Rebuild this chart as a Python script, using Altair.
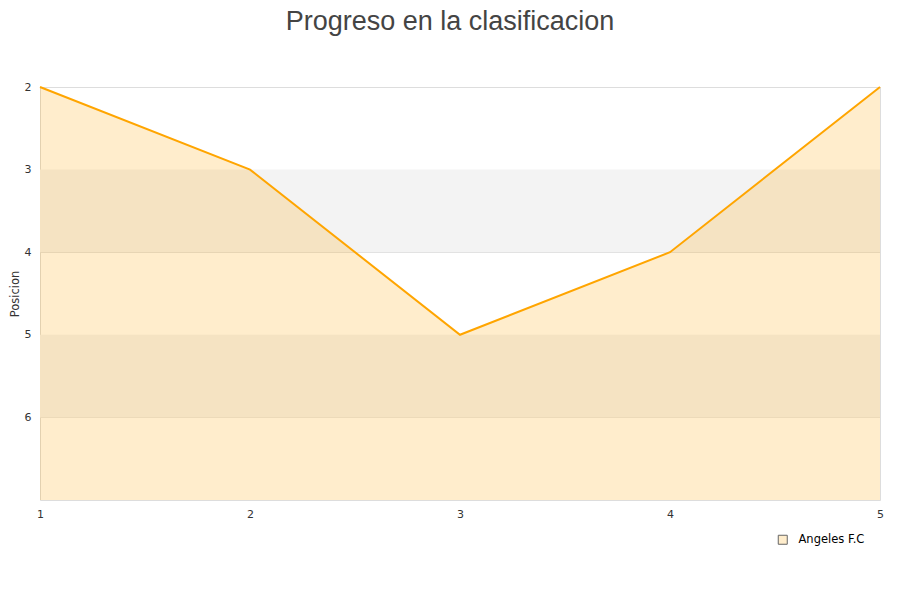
import altair as alt
import pandas as pd

jornadas = [1, 2, 3, 4, 5]
posiciones = [2, 3, 5, 4, 2]
equipo = "Angeles F.C"
band_start = [3, 5]
band_end = [4, 6]

df = pd.DataFrame({"jornada": jornadas, "posicion": posiciones, "equipo": [equipo] * len(jornadas)})
bands = pd.DataFrame({"y0": band_start, "y1": band_end})

yscale = alt.Scale(domain=[2, 7], reverse=True, nice=False, zero=False)
xscale = alt.Scale(domain=[1, 5], nice=False, zero=False)

band_layer = alt.Chart(bands).mark_rect(color="#F3F3F3").encode(
    y=alt.Y("y0:Q", scale=yscale,
            axis=alt.Axis(values=[2, 3, 4, 5, 6], format="d", title="Posicion", grid=True,
                          gridColor="#DDDDDD", ticks=False, domain=False, labelPadding=9,
                          labelFontSize=11, labelColor="#333333", titleFontSize=11.5,
                          titleFontWeight="normal", titleColor="#333333", titlePadding=4)),
    y2="y1:Q",
    x=alt.value(0),
    x2=alt.value(840),
)

area = alt.Chart(df).mark_area(fillOpacity=1, line=False).encode(
    x=alt.X("jornada:Q", scale=xscale,
            axis=alt.Axis(values=jornadas, format="d", title=None, grid=False, ticks=False, domain=False,
                          labelFlush=False, labelPadding=8, labelFontSize=11, labelColor="#333333")),
    y=alt.Y("posicion:Q", scale=yscale),
    y2=alt.datum(7),
    fill=alt.Fill("equipo:N", scale=alt.Scale(range=["rgba(255,165,0,0.2)"]),
                  legend=alt.Legend(title=None, orient="none", legendX=737, legendY=447,
                                    symbolType="square", symbolSize=81, symbolStrokeColor="#666666",
                                    symbolStrokeWidth=1, symbolOpacity=1, labelOffset=10,
                                    labelFontSize=11.5, labelColor="#000000")),
)

line = alt.Chart(df).mark_line(color="#FFA500", strokeWidth=2).encode(
    x=alt.X("jornada:Q", scale=xscale),
    y=alt.Y("posicion:Q", scale=yscale),
)

chart = alt.layer(band_layer, area, line).properties(
    width=840,
    height=413,
    title=alt.TitleParams("Progreso en la clasificacion", fontSize=27, fontWeight="normal",
                          color="#444444", font="Liberation Sans", offset=45, dx=-10, anchor="middle"),
    autosize=alt.AutoSizeParams(type="none"),
    padding={"left": 32, "top": 79, "right": 12, "bottom": 90},
).configure_view(stroke="#DDDDDD", strokeWidth=1).configure(font="DejaVu Sans")

chart.save("out.html", embed_options={"renderer": "svg", "actions": False})
